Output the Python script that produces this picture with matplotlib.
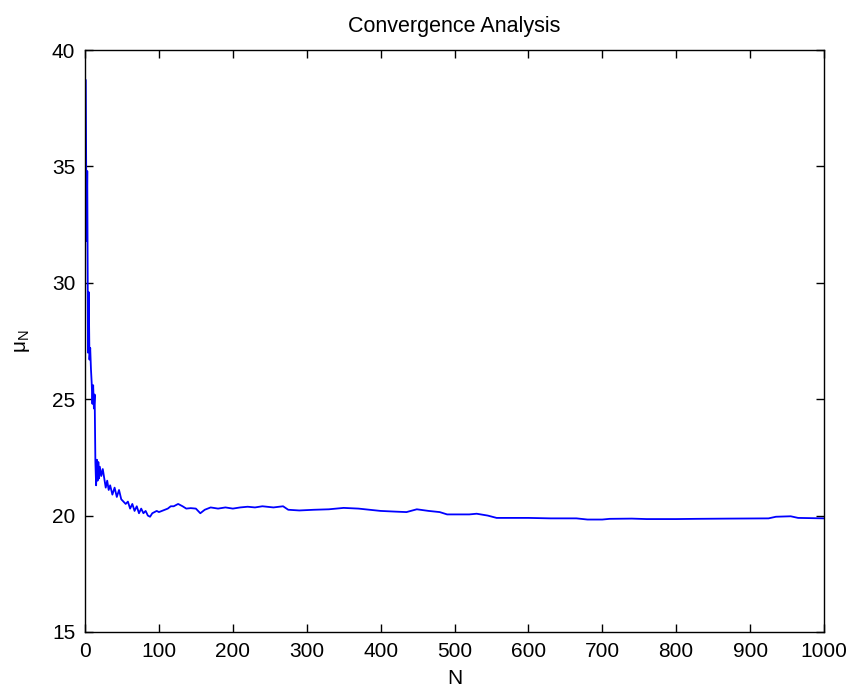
import matplotlib
matplotlib.use('Agg')
import matplotlib.pyplot as plt

plt.rcParams['font.family'] = ['Liberation Sans', 'DejaVu Sans']
plt.rcParams['mathtext.fontset'] = 'custom'
plt.rcParams['mathtext.rm'] = 'Liberation Sans'
plt.rcParams['mathtext.it'] = 'Liberation Sans'

# running estimate mu_N
n_vals = [1, 2, 3, 4, 5, 6, 7, 8, 9, 10, 11, 12, 13, 14, 15, 16, 17, 18, 19, 20,
          22, 24, 26, 28, 30, 32, 34, 37, 40, 43, 46, 49, 52, 55, 58, 61, 64, 67,
          70, 73, 76, 79, 82, 85, 88, 91, 94, 97, 100, 104, 108, 112, 116, 120,
          126, 132, 137, 143, 150, 156, 162, 170, 180, 190, 200, 210, 220, 230,
          240, 255, 268, 275, 290, 310, 330, 350, 370, 385, 400, 420, 435, 449,
          465, 480, 490, 520, 530, 545, 557, 600, 630, 665, 680, 700, 710, 740,
          760, 800, 827, 870, 925, 935, 955, 965, 1000]
mu_vals = [38.7, 31.8, 34.8, 27.0, 29.6, 26.7, 27.2, 26.3, 25.7, 24.8, 25.6, 24.6,
           25.2, 22.3, 21.3, 22.4, 21.5, 22.3, 21.6, 22.1,
           21.7, 22.0, 21.6, 21.2, 21.5, 21.1, 21.3, 20.9, 21.2, 20.8, 21.1, 20.7,
           20.6, 20.5, 20.6, 20.3, 20.5, 20.2,
           20.4, 20.1, 20.3, 20.1, 20.2, 20.0, 19.95, 20.1, 20.15, 20.2, 20.15,
           20.2, 20.25, 20.3, 20.4, 20.4,
           20.5, 20.4, 20.3, 20.32, 20.3, 20.1, 20.25, 20.35, 20.3, 20.35, 20.3,
           20.35, 20.38, 20.35,
           20.4, 20.35, 20.4, 20.25, 20.22, 20.25, 20.27, 20.33, 20.3, 20.25, 20.2,
           20.17, 20.15, 20.27,
           20.2, 20.15, 20.05, 20.05, 20.08, 20.0, 19.9, 19.9, 19.88, 19.88, 19.83,
           19.83, 19.86, 19.87,
           19.85, 19.85, 19.86, 19.87, 19.88, 19.95, 19.97, 19.9, 19.88]

xticks = list(range(0, 1001, 100))
yticks = [15, 20, 25, 30, 35, 40]

fig = plt.figure(figsize=(8.47, 6.87), dpi=100)
ax = fig.add_axes([0.1004, 0.0801, 0.8724, 0.8471])

ax.plot(n_vals, mu_vals, color='#0000ff', linewidth=1.3)

ax.set_xlim(0, 1000)
ax.set_ylim(15, 40)
ax.set_xticks(xticks)
ax.set_yticks(yticks)
ax.tick_params(direction='in', length=6, width=1, top=True, right=True,
               labelsize=15, pad=7, colors='black')
for s in ax.spines.values():
    s.set_linewidth(1)
    s.set_color('black')

ax.set_title('Convergence Analysis', fontsize=15.5, pad=13)
ax.set_xlabel('N', fontsize=15, labelpad=6)
ax.set_ylabel(r'$\mu_N$', fontsize=15, labelpad=14)

fig.savefig('out.png', dpi=100)
